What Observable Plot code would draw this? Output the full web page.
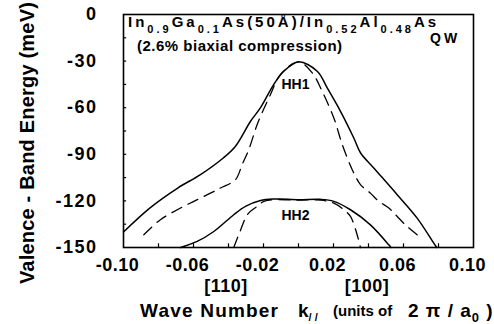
<!DOCTYPE html>
<html>
<head>
<meta charset="utf-8">
<script src="https://cdn.jsdelivr.net/npm/d3@7"></script>
<script src="https://cdn.jsdelivr.net/npm/@observablehq/plot@0.6"></script>
<style>
  html, body { margin: 0; padding: 0; background: #fff; }
  svg text { font-family: "Liberation Sans", Arial, Helvetica, sans-serif; font-weight: bold; }
  [aria-label="x-axis tick label"] text { letter-spacing: 0.5px; }
  [aria-label="y-axis tick label"] text { letter-spacing: 1.5px; }
</style>
</head>
<body>
<div id="chart"></div>
<script>
// HH1 subband, solid line (k, energy in meV)
const hh1SolidK = [-0.100, -0.085, -0.069, -0.056, -0.043, -0.036, -0.0274, -0.0217, -0.0141, -0.0084, 0, 0.0107, 0.0164, 0.024, 0.0316, 0.0354, 0.043, 0.0564, 0.0678, 0.0773, 0.079];
const hh1SolidE = [-140, -124.6, -111.7, -103.1, -92.4, -84.8, -68.7, -60, -45, -36.5, -30.5, -36.5, -47.2, -62.3, -79.5, -89, -98.8, -116, -131.1, -147.2, -150];
// HH1 subband, dashed line
const hh1DashK = [-0.0884, -0.0789, -0.0674, -0.056, -0.0446, -0.036, -0.0322, -0.0284, -0.0236, -0.016, -0.0103, 0, 0.0078, 0.0135, 0.0202, 0.025, 0.0307, 0.0354, 0.0411, 0.0459, 0.0516, 0.0564, 0.0621, 0.0678];
const hh1DashE = [-141.8, -132.1, -124.6, -118.2, -111.7, -106.3, -96.6, -87, -70.8, -51.5, -38.6, -30.5, -37.5, -49.4, -66.6, -83.7, -99.9, -109.5, -115, -120.3, -124.6, -130, -136.5, -141.8];
// HH2 subband, solid line
const hh2SolidK = [-0.0674, -0.0579, -0.0484, -0.037, -0.0303, -0.0217, -0.0141, 0, 0.0126, 0.0202, 0.0297, 0.0411, 0.0516, 0.0528];
const hh2SolidE = [-150, -146.1, -139.7, -128.9, -123.5, -119.7, -118.8, -119.2, -119, -120.3, -125.7, -135.4, -148.3, -150];
// HH2 subband, dashed line
const hh2DashK = [-0.037, -0.0335, -0.029, -0.0236, -0.0198, -0.0141, 0, 0.0126, 0.0202, 0.0259, 0.0297, 0.0335, 0.0354];
const hh2DashE = [-150, -140, -128.5, -123.5, -120.3, -119.2, -119.5, -119.5, -121.4, -125.7, -130, -141.8, -150];

const xTickLabels = [-0.10, -0.06, -0.02, 0.02, 0.06, 0.10];
const xMinorTicks = [-0.08, -0.06, -0.04, -0.02, 0, 0.02, 0.04, 0.06, 0.08];
const yTickLabels = [0, -30, -60, -90, -120, -150];
const yMinorTicks = [-15, -30, -45, -60, -75, -90, -105, -120, -135];

const bandLabels = ["HH1", "HH2"];
const bandLabelK = [0, 0];
const bandLabelE = [-45, -129.5];

const toRows = (ks, es) => ks.map((k, i) => ({k, e: es[i]}));
const hh1Solid = toRows(hh1SolidK, hh1SolidE);
const hh1Dash = toRows(hh1DashK, hh1DashE);
const hh2Solid = toRows(hh2SolidK, hh2SolidE);
const hh2Dash = toRows(hh2DashK, hh2DashE);
const labelRows = bandLabels.map((t, i) => ({t, k: bandLabelK[i], e: bandLabelE[i]}));

const solidStyle = {x: "k", y: "e", stroke: "black", strokeWidth: 1.5, curve: "catmull-rom"};
const dashStyle = {x: "k", y: "e", stroke: "black", strokeWidth: 1.3, strokeDasharray: "11,7", curve: "catmull-rom"};

const plot = Plot.plot({
  width: 494,
  height: 324,
  marginLeft: 123,
  marginRight: 21,
  marginTop: 14,
  marginBottom: 77,
  style: {background: "white", color: "black"},
  x: {domain: [-0.1, 0.1]},
  y: {domain: [-150, 0]},
  marks: [
    Plot.ruleX(xMinorTicks, {x: d => d, y1: -150, y2: -147.6, stroke: "black", strokeWidth: 1.2}),
    Plot.ruleY(yMinorTicks, {y: d => d, x1: -0.1, x2: -0.0982, stroke: "black", strokeWidth: 1.2}),
    Plot.axisX({ticks: xTickLabels, tickSize: 0, tickPadding: 11, tickFormat: d => d.toFixed(2), fontSize: 18, fontWeight: "bold", label: null, dx: -6}),
    Plot.axisY({ticks: yTickLabels, tickSize: 0, tickPadding: 26, tickFormat: d => String(d), fontSize: 18, fontWeight: "bold", label: null}),
    Plot.line(hh1Solid, solidStyle),
    Plot.line(hh1Dash, dashStyle),
    Plot.line(hh2Solid, solidStyle),
    Plot.line(hh2Dash, dashStyle),
    Plot.text(labelRows, {x: "k", y: "e", text: "t", fontSize: 14, fontWeight: "bold", dx: -3, fill: "black"}),
    Plot.frame({stroke: "black", strokeWidth: 1.6})
  ]
});
document.getElementById("chart").appendChild(plot);

const svg = d3.select(plot);
function addText(x, y, parts, opts = {}) {
  const t = svg.append("text").attr("x", x).attr("y", y).attr("fill", "black")
    .attr("text-anchor", opts.anchor || "start")
    .style("font-size", (opts.size || 15) + "px");
  if (opts.ls != null) t.style("letter-spacing", opts.ls + "px");
  if (opts.transform) t.attr("transform", opts.transform);
  let shift = 0;
  for (const p of parts) {
    const s = typeof p === "string" ? {t: p} : p;
    const target = s.sub != null ? s.sub : 0;
    const ts = t.append("tspan").text(s.t);
    if (target !== shift) { ts.attr("dy", target - shift); shift = target; }
    if (s.size) ts.style("font-size", s.size + "px");
  }
  return t;
}

// Title inside the frame
addText(128, 27, [
  "In", {t: "0.9", sub: 6, size: 11}, {t: "Ga", sub: 0}, {t: "0.1", sub: 6, size: 11},
  {t: "As(50Å)/In", sub: 0}, {t: "0.52", sub: 6, size: 11}, {t: "Al", sub: 0},
  {t: "0.48", sub: 6, size: 11}, {t: "As", sub: 0}
], {size: 15, ls: 3});
addText(430, 43, ["QW"], {size: 14, ls: 3});
addText(137, 51, ["(2.6% biaxial compression)"], {size: 15, ls: 0.5});

// Direction labels
addText(226, 292, ["[110]"], {size: 18, anchor: "middle", ls: 0.5});
addText(367, 292, ["[100]"], {size: 18, anchor: "middle", ls: 0.5});

// X axis title
addText(140, 317, ["Wave Number"], {size: 19, ls: 1.2});
addText(298, 317, ["k", {t: "/ /", sub: 4, size: 11}], {size: 19, ls: 0});
addText(333, 316, ["(units of"], {size: 15, ls: 0});
addText(408, 317, ["2 π / a", {t: "0", sub: 5, size: 13}, {t: " )", sub: 0}], {size: 19, ls: 1});

// Y axis title
addText(0, 0, ["Valence - Band Energy (meV)"], {size: 20, anchor: "middle", ls: 0.2, transform: "translate(34,143) rotate(-90)"});
</script>
</body>
</html>
